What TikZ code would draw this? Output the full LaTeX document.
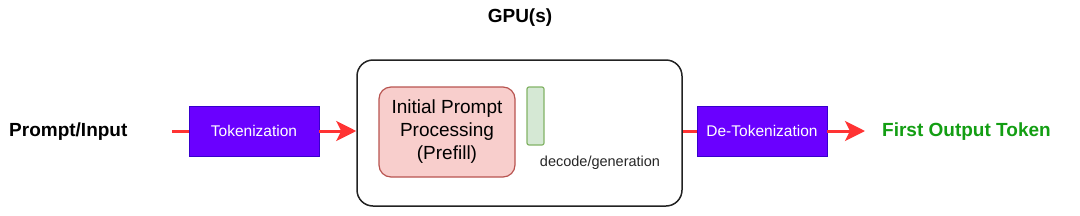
\documentclass[tikz,border=0pt]{standalone}
\usepackage{fontspec}
\setmainfont{Liberation Sans}
\usetikzlibrary{arrows.meta}
\definecolor{tokfill}{HTML}{6A00FF}
\definecolor{tokdraw}{HTML}{3700CC}
\definecolor{prefill}{HTML}{F8CECC}
\definecolor{predraw}{HTML}{B85450}
\definecolor{genfill}{HTML}{D5E8D4}
\definecolor{gendraw}{HTML}{82B366}
\definecolor{arrowred}{HTML}{FF3333}
\definecolor{outgreen}{HTML}{139E13}
\definecolor{boxdraw}{HTML}{222222}
\tikzset{
  tokbox/.style={draw=tokdraw, fill=tokfill, line width=0.8pt, minimum width=130pt, minimum height=50pt, inner sep=0pt, text=white, font=\fontsize{15.5}{18}\selectfont},
  bigtitle/.style={font=\fontsize{19}{22}\selectfont\bfseries, inner sep=0pt},
  redarrow/.style={draw=arrowred, line width=3pt, -{Stealth[length=20pt,width=20pt,inset=5pt]}},
  redline/.style={draw=arrowred, line width=3pt},
}
\begin{document}
\begin{tikzpicture}[x=1pt,y=-1pt]
\useasboundingbox (0,0) rectangle (1080,215);
% GPU box
\node[draw=boxdraw, line width=1.5pt, rounded corners=16pt, minimum width=325pt, minimum height=146pt, inner sep=0pt] (gpu) at (519.5,133) {};
\node[bigtitle] (gputitle) at (520,18) {GPU(s)};
% prefill
\node[draw=predraw, fill=prefill, line width=1.2pt, rounded corners=12pt, minimum width=136pt, minimum height=90pt, inner sep=0pt, align=center, font=\fontsize{19}{23}\selectfont] (pre) at (447,132) {Initial Prompt\\Processing\\(Prefill)};
% generation
\node[draw=gendraw, fill=genfill, line width=1.2pt, rounded corners=2pt, minimum width=17pt, minimum height=58pt, inner sep=0pt] (gen) at (535.5,116) {};
\node[font=\fontsize{14.5}{17}\selectfont, inner sep=0pt, text=black!85] (genlabel) at (600,163) {decode/generation};
% input/output
\node[bigtitle, anchor=west] (input) at (9,132) {Prompt/Input};
\node[tokbox] (tok) at (254,131) {Tokenization};
\node[tokbox] (detok) at (762,131) {De-Tokenization};
\node[bigtitle, anchor=west, text=outgreen] (out) at (882,132) {First Output Token};
\coordinate (instart) at (172,131);
\coordinate (outend) at (865,131);
% connectors
\draw[redline] (instart) -- (tok.west);
\draw[redarrow] (tok.east) -- (tok.east -| gpu.west);
\draw[redline] (detok.west -| gpu.east) -- (detok.west);
\draw[redarrow] (detok.east) -- (outend);
\end{tikzpicture}
\end{document}
